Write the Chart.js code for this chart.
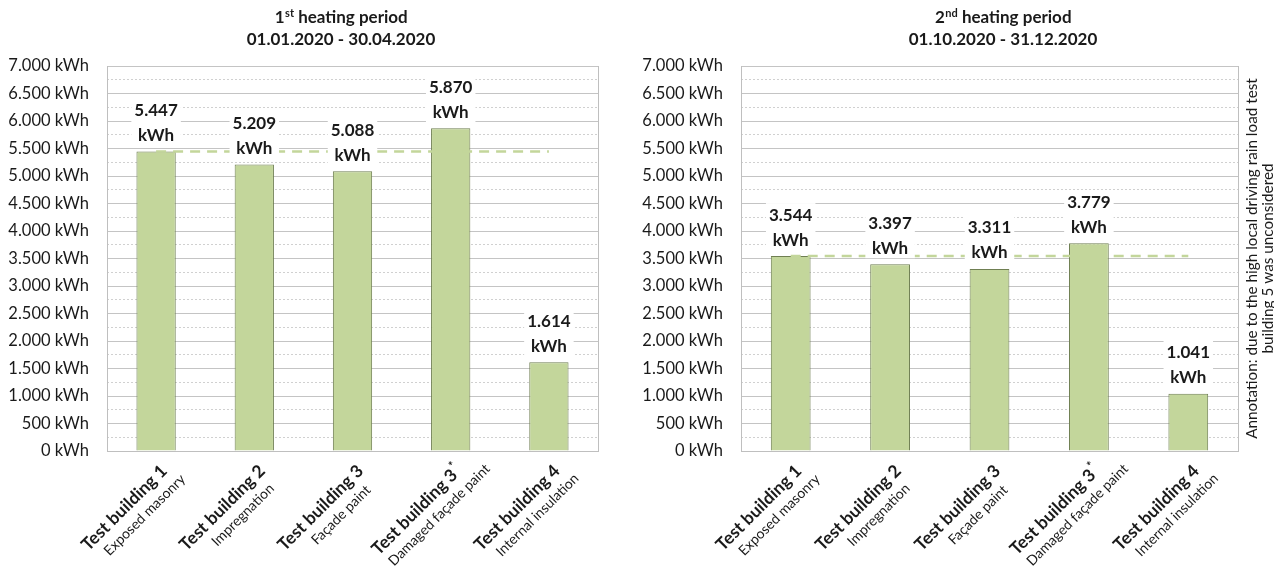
<!DOCTYPE html>
<html>
<head>
<meta charset="utf-8">
<title>Heating energy per test building</title>
<script src="https://cdn.jsdelivr.net/npm/chart.js@4.4.1/dist/chart.umd.min.js"></script>
<style>
  html, body { margin: 0; padding: 0; background: #ffffff; }
  #wrap { position: relative; width: 1274px; height: 566px; overflow: hidden; }
  .panel { position: absolute; top: 0; height: 566px; }
  #panel1 { left: 0; width: 640px; }
  #panel2 { left: 640px; width: 634px; }
</style>
</head>
<body>
<div id="wrap">
  <div class="panel" id="panel1"><canvas id="chart1"></canvas></div>
  <div class="panel" id="panel2"><canvas id="chart2"></canvas></div>
</div>
<script>
// Categories: building name, superscript mark, variant description
const buildingNames = ['Test building 1', 'Test building 2', 'Test building 3', 'Test building 3', 'Test building 4'];
const buildingMarks = ['', '', '', '*', ''];
const buildingVariants = ['Exposed masonry', 'Impregnation', 'Façade paint', 'Damaged façade paint', 'Internal insulation'];

// Heating energy per building (kWh)
const period1Energy = [5447, 5209, 5088, 5870, 1614];
const period2Energy = [3544, 3397, 3311, 3779, 1041];

// Reference level (exposed masonry) drawn as dashed line
const period1Reference = [5447, 5447, 5447, 5447, 5447];
const period2Reference = [3544, 3544, 3544, 3544, 3544];

// Titles: [number, superscript, rest], date range
const period1Heading = ['1', 'st', ' heating period'];
const period1Dates = '01.01.2020 - 30.04.2020';
const period2Heading = ['2', 'nd', ' heating period'];
const period2Dates = '01.10.2020 - 31.12.2020';

// Side note on the second chart
const annotationLines = ['Annotation: due to the high local driving rain load test', 'building 5 was unconsidered'];

// Value axis
const yMin = 0;
const yMax = 7000;
const yMajorStep = 500;
const yMinorStep = 250;
const yUnit = ' kWh';

const FONT = 'Lato, "Open Sans", "DejaVu Sans", sans-serif';
const INK = '#1a1a1a';
const BAR_FILL = '#c3d69b';
const BAR_EDGE = '#6f7f52';
const FRAME = '#bfbfbf';

function groupThousands(v) {
  return String(v).replace(/\B(?=(\d{3})+(?!\d))/g, '.');
}

// Titles, value labels, rotated category labels and the side note
const decorPlugin = {
  id: 'decor',
  afterDatasetsDraw(chart) {
    const ctx = chart.ctx;
    const meta = chart.getDatasetMeta(0);
    const values = chart.data.datasets[0].data;
    ctx.save();
    ctx.font = `bold 17px ${FONT}`;
    ctx.textAlign = 'center';
    ctx.textBaseline = 'middle';
    meta.data.forEach((bar, i) => {
      const top = groupThousands(values[i]);
      const bottom = 'kWh';
      const w = Math.max(ctx.measureText(top).width, ctx.measureText(bottom).width) + 6;
      ctx.fillStyle = '#ffffff';
      ctx.fillRect(bar.x - w / 2, bar.y - 53, w, 47);
      ctx.fillStyle = INK;
      ctx.fillText(top, bar.x, bar.y - 41);
      ctx.fillText(bottom, bar.x, bar.y - 16);
    });
    ctx.restore();
  },
  afterDraw(chart, args, opts) {
    const ctx = chart.ctx;
    const area = chart.chartArea;
    ctx.save();
    ctx.fillStyle = INK;

    // Title, two lines, first with a superscript ordinal
    const [num, sup, rest] = opts.heading;
    const mainFont = `bold 17px ${FONT}`;
    const supFont = `bold 11px ${FONT}`;
    ctx.font = mainFont;
    const wNum = ctx.measureText(num).width;
    const wRest = ctx.measureText(rest).width;
    ctx.font = supFont;
    const wSup = ctx.measureText(sup).width;
    const x = opts.titleX - (wNum + wSup + wRest) / 2;
    ctx.textAlign = 'left';
    ctx.textBaseline = 'middle';
    ctx.font = mainFont;
    ctx.fillText(num, x, 18);
    ctx.font = supFont;
    ctx.fillText(sup, x + wNum + 0.5, 13);
    ctx.font = mainFont;
    ctx.fillText(rest, x + wNum + wSup + 0.5, 18);
    ctx.textAlign = 'center';
    ctx.fillText(opts.dates, opts.titleX, 40);

    // Rotated category labels under the axis: bold name ending at the tick,
    // variant line beneath it
    const xs = chart.scales.x;
    buildingNames.forEach((name, i) => {
      const cx = xs.getPixelForValue(i);
      ctx.save();
      ctx.translate(cx + 8, area.bottom + 17);
      ctx.rotate(-Math.PI / 4);
      ctx.textBaseline = 'middle';
      let markW = 0;
      if (buildingMarks[i]) {
        ctx.font = `bold 12px ${FONT}`;
        markW = ctx.measureText(buildingMarks[i]).width + 1;
        ctx.textAlign = 'left';
        ctx.fillText(buildingMarks[i], -markW + 1, -6);
      }
      ctx.font = `bold 17.5px ${FONT}`;
      ctx.textAlign = 'right';
      ctx.fillText(name, -markW, 0);
      ctx.font = `14px ${FONT}`;
      ctx.textAlign = 'center';
      ctx.fillText(buildingVariants[i], -47, 19.5);
      ctx.restore();
    });

    // Vertical note at the right edge
    if (opts.note) {
      const cy = (area.top + area.bottom) / 2;
      ctx.font = `15.3px ${FONT}`;
      ctx.textAlign = 'center';
      ctx.textBaseline = 'middle';
      opts.note.forEach((line, k) => {
        ctx.save();
        ctx.translate(opts.noteX + k * 16, cy);
        ctx.rotate(-Math.PI / 2);
        ctx.fillText(line, 0, 0);
        ctx.restore();
      });
    }
    ctx.restore();
  }
};

function buildChart(canvasId, values, reference, cfg) {
  return new Chart(document.getElementById(canvasId), {
    type: 'bar',
    data: {
      labels: buildingNames.map((n, i) => n + buildingMarks[i]),
      datasets: [
        {
          type: 'bar',
          data: values,
          backgroundColor: BAR_FILL,
          borderColor: BAR_EDGE,
          borderWidth: 1,
          barPercentage: 0.4,
          categoryPercentage: 1,
          order: 1,
          yAxisID: 'y'
        },
        {
          type: 'line',
          data: reference,
          borderColor: '#c3d69b',
          borderWidth: 2.5,
          borderDash: [10, 7],
          pointRadius: 0,
          fill: false,
          order: 0,
          yAxisID: 'y'
        }
      ]
    },
    options: {
      responsive: true,
      maintainAspectRatio: false,
      animation: false,
      devicePixelRatio: 1,
      layout: { padding: { top: 66, right: cfg.padRight, left: 0, bottom: 0 } },
      plugins: {
        legend: { display: false },
        tooltip: { enabled: false },
        title: { display: false },
        decor: {
          heading: cfg.heading,
          dates: cfg.dates,
          titleX: cfg.titleX,
          note: cfg.note,
          noteX: cfg.noteX
        }
      },
      scales: {
        x: {
          grid: { display: false },
          ticks: { display: false },
          border: { color: FRAME, width: 1 },
          afterFit(s) { s.height = 115; }
        },
        y: {
          position: 'left',
          min: yMin,
          max: yMax,
          ticks: {
            stepSize: yMajorStep,
            padding: 18,
            color: INK,
            autoSkip: false,
            font: { family: FONT, size: 16.5 },
            callback: (v) => groupThousands(v) + yUnit
          },
          grid: { color: '#c4c4c4', lineWidth: 1, drawTicks: false },
          border: { color: FRAME, width: 1 },
          afterFit(s) { s.width = cfg.axisWidth; }
        },
        yMinor: {
          position: 'left',
          min: yMin,
          max: yMax,
          ticks: { display: false, stepSize: yMinorStep },
          grid: {
            drawTicks: false,
            lineWidth: 1,
            color: (c) => (c.tick && c.tick.value % yMajorStep !== 0) ? '#d0d0d0' : 'rgba(0,0,0,0)'
          },
          border: { display: false, dash: [2, 2] },
          afterFit(s) { s.width = 0; }
        },
        yEdge: {
          position: 'right',
          min: yMin,
          max: yMax,
          ticks: { display: false },
          grid: { display: false, drawTicks: false },
          border: { color: FRAME, width: 1 },
          afterFit(s) { s.width = 0; }
        }
      }
    },
    plugins: [decorPlugin]
  });
}

buildChart('chart1', period1Energy, period1Reference, {
  heading: period1Heading,
  dates: period1Dates,
  titleX: 341,
  padRight: 42,
  axisWidth: 107,
  note: null
});

buildChart('chart2', period2Energy, period2Reference, {
  heading: period2Heading,
  dates: period2Dates,
  titleX: 363,
  padRight: 36,
  axisWidth: 101,
  note: annotationLines,
  noteX: 612
});
</script>
</body>
</html>
